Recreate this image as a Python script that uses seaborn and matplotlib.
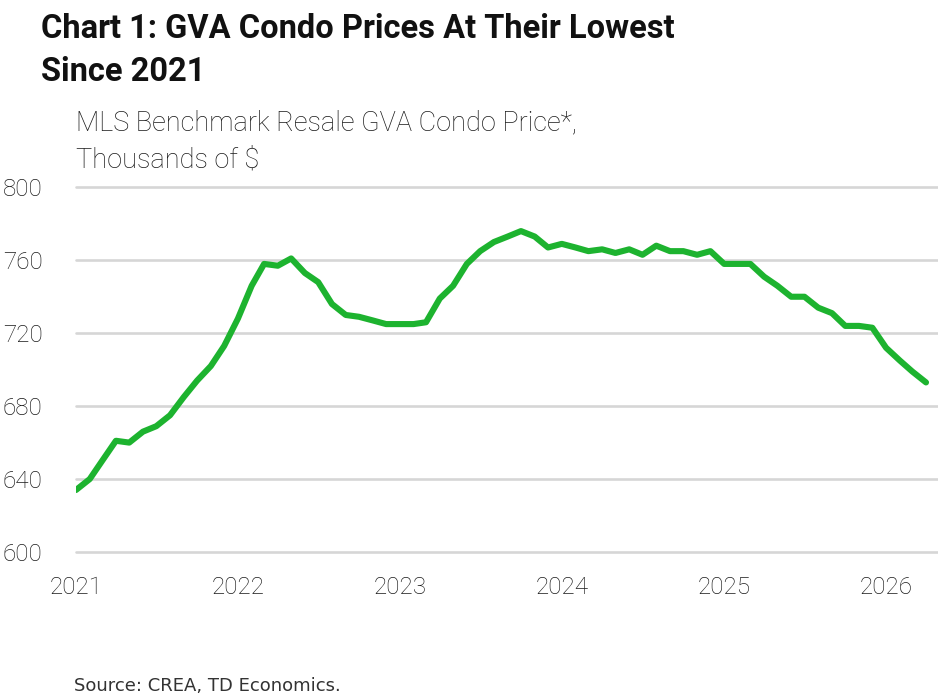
import pandas as pd
import matplotlib.pyplot as plt
import seaborn as sns

# 數據：每月 MLS 基準轉售價格（千元）
start_month = '2021-01-01'
prices = [634, 640, 650, 661, 660, 666, 669, 675, 685, 694, 702, 713,
          728, 746, 758, 757, 761, 753, 748, 736, 730, 729, 727, 725,
          725, 725, 726, 739, 746, 758, 765, 770, 773, 776, 773, 767,
          769, 767, 765, 766, 764, 766, 763, 768, 765, 765, 763, 765,
          758, 758, 758, 751, 746, 740, 740, 734, 731, 724, 724, 723,
          712, 705, 699, 693]
y_ticks = [600, 640, 680, 720, 760, 800]
x_years = ['2021', '2022', '2023', '2024', '2025', '2026']

title = 'Chart 1: GVA Condo Prices At Their Lowest\nSince 2021'
subtitle = 'MLS Benchmark Resale GVA Condo Price*,\nThousands of $'
source = 'Source: CREA, TD Economics.'

data = pd.DataFrame({
    'date': pd.date_range(start_month, periods=len(prices), freq='MS'),
    'price': prices,
})

sns.set_style('white')
plt.rcParams['font.family'] = ['Roboto', 'DejaVu Sans']

fig = plt.figure(figsize=(9.38, 6.99), dpi=100)
ax = fig.add_axes([0.081, 0.2103, 0.919, 0.5217])

# 網格線
for v in y_ticks:
    ax.axhline(v, color='#d6d6d6', lw=1.9, zorder=1, clip_on=False)

sns.lineplot(data=data, x='date', y='price', ax=ax, color='#1db32f',
             lw=4.4, solid_capstyle='round', solid_joinstyle='round', zorder=3)

ax.set_ylim(600, 800)
ax.set_xlim(pd.Timestamp('2021-01-01'), pd.Timestamp('2026-04-28'))
ax.set_yticks(y_ticks)
ax.set_yticklabels([str(v) for v in y_ticks], fontsize=17.5, fontweight='light')
ax.set_xticks([pd.Timestamp(f'{y}-01-01') for y in x_years])
ax.set_xticklabels(x_years, fontsize=17.5, fontweight='light')
ax.tick_params(axis='y', length=0, pad=24, colors='#1a1a1a')
ax.tick_params(axis='x', length=0, pad=17, colors='#1a1a1a')
ax.set_xlabel('')
ax.set_ylabel('')
for s in ax.spines.values():
    s.set_visible(False)

fig.text(0.044, 0.982, title, fontsize=23.5, fontweight='bold', va='top',
         ha='left', linespacing=1.45, color='#111111')
fig.text(0.081, 0.843, subtitle, fontsize=19.5, fontweight='light', va='top',
         ha='left', linespacing=1.45, color='#1a1a1a')
fig.text(0.079, 0.0055, source, fontsize=13, va='bottom', ha='left',
         color='#333333', family='DejaVu Sans')

fig.savefig('out.png', dpi=100)
